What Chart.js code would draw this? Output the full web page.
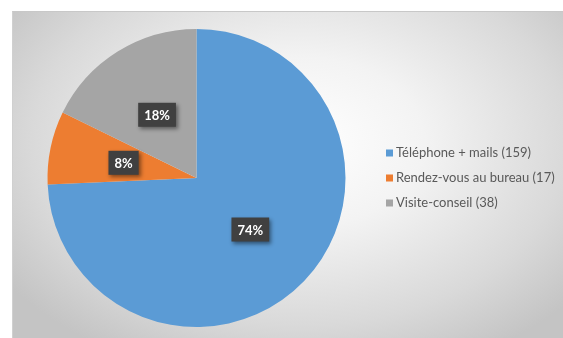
<!DOCTYPE html>
<html>
<head>
<meta charset="utf-8">
<script src="https://cdn.jsdelivr.net/npm/chart.js@4/dist/chart.umd.min.js"></script>
<style>
    body { margin: 0; background: #ffffff; }
    #wrap {
        position: absolute; left: 12px; top: 11px; width: 551px; height: 327px;
        border-top: 1px solid #c8c8c8; border-left: 1px solid #d0d0d0; box-sizing: border-box;
        background: radial-gradient(ellipse 65% 75% at 52% 40%, #ffffff 0%, #f3f3f3 35%, #d9d9d9 75%, #c4c4c4 100%);
    }
</style>
</head>
<body>
<div id="wrap"><canvas id="pieChart"></canvas></div>
<script>
// Mode de contact
const categories = ['Téléphone + mails', 'Rendez-vous au bureau', 'Visite-conseil'];
const counts = [159, 17, 38];
const colors = ['#5b9bd5', '#ed7d31', '#a5a5a5'];

const total = counts.reduce((a, b) => a + b, 0);

// dark percent boxes in the middle of each slice
const percentLabels = {
    id: 'percentLabels',
    afterDatasetsDraw(chart) {
        const ctx = chart.ctx;
        const meta = chart.getDatasetMeta(0);
        ctx.save();
        ctx.font = 'bold 13px Lato, "DejaVu Sans", sans-serif';
        ctx.textAlign = 'center';
        ctx.textBaseline = 'middle';
        meta.data.forEach(function (arc, i) {
            const pos = arc.tooltipPosition();
            const text = Math.round(counts[i] / total * 100) + '%';
            const w = ctx.measureText(text).width + 12;
            const h = 24;
            ctx.shadowColor = 'rgba(0,0,0,0.45)';
            ctx.shadowBlur = 4;
            ctx.shadowOffsetX = 2;
            ctx.shadowOffsetY = 2;
            ctx.fillStyle = '#404040';
            ctx.fillRect(pos.x - w / 2, pos.y - h / 2, w, h);
            ctx.shadowColor = 'transparent';
            ctx.fillStyle = '#ffffff';
            ctx.fillText(text, pos.x, pos.y + 1);
        });
        ctx.restore();
    }
};

// legend to the right of the pie, like the Excel one
const sideLegend = {
    id: 'sideLegend',
    afterDraw(chart) {
        const ctx = chart.ctx;
        const area = chart.chartArea;
        const x = area.right + 6;
        const midY = (area.top + area.bottom) / 2;
        const rowGap = 25;
        ctx.save();
        ctx.font = '13px Lato, "DejaVu Sans", sans-serif';
        ctx.textBaseline = 'middle';
        categories.forEach(function (c, i) {
            const y = midY + (i - (categories.length - 1) / 2) * rowGap;
            ctx.fillStyle = colors[i];
            ctx.fillRect(x, y - 3.5, 7, 7);
            ctx.fillStyle = '#595959';
            ctx.fillText(c + ' (' + counts[i] + ')', x + 10, y);
        });
        ctx.restore();
    }
};

const pieCtx = document.getElementById('pieChart').getContext('2d');
const pieChart = new Chart(pieCtx, {
    type: 'pie',
    data: {
        labels: categories,
        datasets: [{
            data: counts,
            backgroundColor: colors,
            borderWidth: 0
        }]
    },
    options: {
        responsive: true,
        maintainAspectRatio: false,
        animation: false,
        layout: {
            padding: { left: 0, right: 183, top: 17, bottom: 11 }
        },
        plugins: {
            legend: { display: false },
            tooltip: { enabled: false }
        }
    },
    plugins: [percentLabels, sideLegend]
});
</script>
</body>
</html>
